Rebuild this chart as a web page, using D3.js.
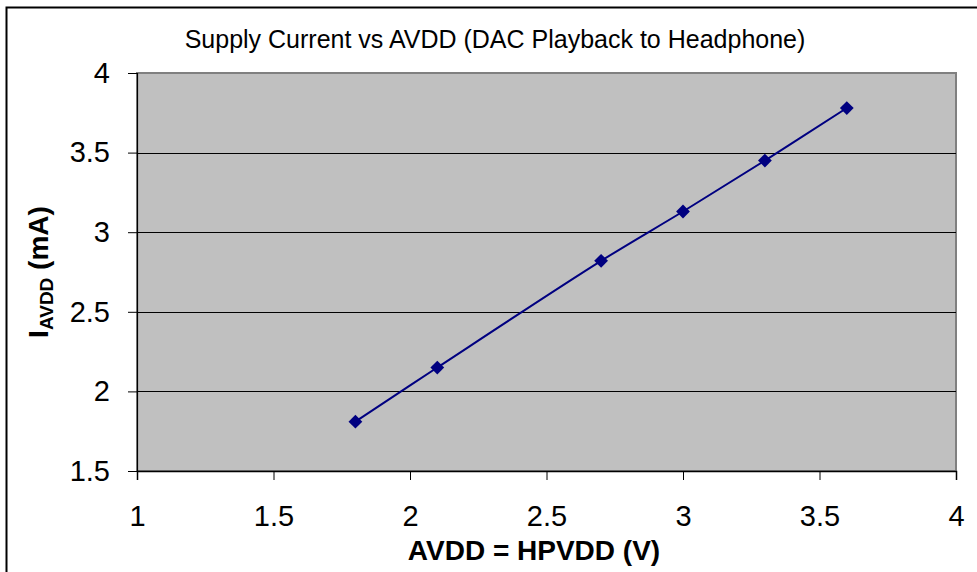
<!DOCTYPE html>
<html><head><meta charset="utf-8">
<script src="https://cdn.jsdelivr.net/npm/d3@7/dist/d3.min.js"></script>
<style>body{margin:0;background:#fff}svg{display:block}text{font-family:"Liberation Sans",Arial,sans-serif}</style>
</head><body>
<script>
const title = "Supply Current vs AVDD (DAC Playback to Headphone)";
const xValues = [1.8, 2.1, 2.7, 3.0, 3.3, 3.6];
const yValues = [1.81, 2.15, 2.82, 3.13, 3.45, 3.78];
const xTicks = [1, 1.5, 2, 2.5, 3, 3.5, 4];
const yTicks = [1.5, 2, 2.5, 3, 3.5, 4];
const xTitle = "AVDD = HPVDD (V)";

const W = 977, H = 572;
const L = 137, R = 956, T = 73, B = 471;
const FONT = '"Liberation Sans",Arial,sans-serif';
const svg = d3.select("body").append("svg").attr("width", W).attr("height", H);

svg.append("rect").attr("x", 6.5).attr("y", 7.5).attr("width", W + 20).attr("height", H + 20)
  .attr("fill", "#fff").attr("stroke", "#000").attr("stroke-width", 2);

const x = d3.scaleLinear().domain([1, 4]).range([L, R]);
const y = d3.scaleLinear().domain([1.5, 4]).range([B, T]);

svg.append("text").attr("x", 495).attr("y", 48).attr("text-anchor", "middle")
  .attr("font-size", 25).attr("fill", "#000").text(title);

svg.append("rect").attr("x", L).attr("y", T).attr("width", R - L).attr("height", B - T)
  .attr("fill", "#C0C0C0").attr("stroke", "#808080").attr("stroke-width", 2);

// gridlines
svg.append("g").selectAll("line").data(yTicks.filter(v => v > 1.5 && v < 4)).join("line")
  .attr("x1", L).attr("x2", R).attr("y1", d => Math.round(y(d)) + 0.5).attr("y2", d => Math.round(y(d)) + 0.5)
  .attr("stroke", "#000").attr("stroke-width", 1);

// y axis
const ya = svg.append("g").attr("transform", `translate(${L},0)`)
  .call(d3.axisLeft(y).tickValues(yTicks).tickSize(9).tickPadding(18).tickFormat(d3.format("")));
ya.select(".domain").attr("stroke", "#000").attr("stroke-width", 1.2);
ya.selectAll(".tick line").attr("stroke", "#000");
ya.selectAll("text").attr("font-size", 29).attr("fill", "#000").attr("font-family", FONT);

// x axis
const xa = svg.append("g").attr("transform", `translate(0,${B})`)
  .call(d3.axisBottom(x).tickValues(xTicks).tickSize(9).tickPadding(25).tickFormat(d3.format("")));
xa.select(".domain").attr("stroke", "#000").attr("stroke-width", 1.5);
xa.selectAll(".tick line").attr("stroke", "#000");
xa.selectAll("text").attr("font-size", 29).attr("fill", "#000").attr("font-family", FONT);

// titles
svg.append("text").attr("x", 534).attr("y", 560).attr("text-anchor", "middle")
  .attr("font-size", 28).attr("font-weight", "bold").text(xTitle);

const yt = svg.append("text").attr("transform", "translate(48,272) rotate(-90)")
  .attr("text-anchor", "middle").attr("font-size", 28).attr("font-weight", "bold");
yt.append("tspan").text("I");
yt.append("tspan").attr("font-size", 19).attr("dy", 5).text("AVDD");
yt.append("tspan").attr("dy", -5).text(" (mA)");

// line
const pts = xValues.map((v, i) => [v, yValues[i]]);
svg.append("path").datum(pts)
  .attr("d", d3.line().x(d => x(d[0])).y(d => y(d[1])).curve(d3.curveCatmullRom.alpha(0.5)))
  .attr("fill", "none").attr("stroke", "#000080").attr("stroke-width", 2);

svg.append("g").selectAll("path").data(pts).join("path")
  .attr("transform", d => `translate(${x(d[0])},${y(d[1])}) rotate(45)`)
  .attr("d", d3.symbol(d3.symbolSquare, 95))
  .attr("fill", "#000080");
</script>
</body></html>
